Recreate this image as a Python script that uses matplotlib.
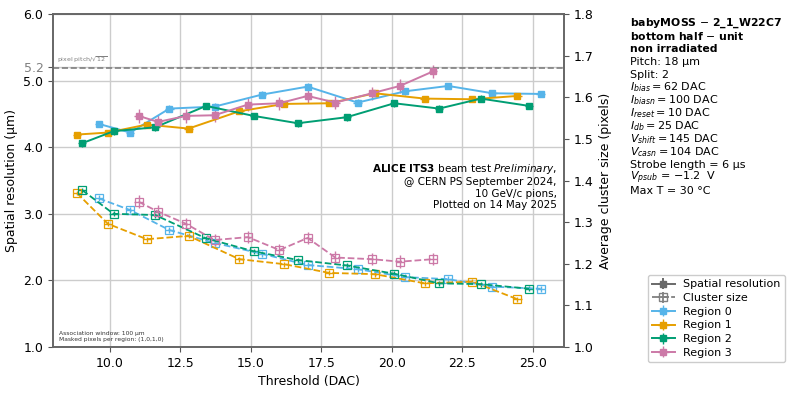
import numpy as np
from matplotlib import pyplot as plt

# threshold (DAC) per region
thr_r0 = [9.62, 10.73, 12.12, 13.72, 15.40, 17.02, 18.79, 20.48, 22.00, 23.57, 25.28]
thr_r1 = [8.84, 9.94, 11.32, 12.80, 14.60, 16.19, 17.79, 19.40, 21.17, 22.86, 24.45]
thr_r2 = [9.03, 10.14, 11.62, 13.42, 15.11, 16.67, 18.40, 20.09, 21.68, 23.16, 24.87]
thr_r3 = [11.03, 11.72, 12.71, 13.72, 14.90, 16.02, 17.02, 18.00, 19.30, 20.29, 21.47]

# spatial resolution (um)
res_r0 = [4.35, 4.22, 4.58, 4.61, 4.79, 4.91, 4.67, 4.84, 4.92, 4.81, 4.80]
res_r1 = [4.19, 4.22, 4.34, 4.28, 4.54, 4.65, 4.66, 4.81, 4.73, 4.72, 4.77]
res_r2 = [4.06, 4.24, 4.30, 4.62, 4.47, 4.36, 4.45, 4.66, 4.58, 4.73, 4.62]
res_r3 = [4.47, 4.38, 4.47, 4.48, 4.64, 4.66, 4.77, 4.67, 4.81, 4.92, 5.14]

# average cluster size (pixels)
cls_r0 = [1.357, 1.329, 1.281, 1.250, 1.224, 1.197, 1.187, 1.168, 1.163, 1.145, 1.140]
cls_r1 = [1.370, 1.296, 1.259, 1.267, 1.211, 1.199, 1.178, 1.175, 1.153, 1.157, 1.115]
cls_r2 = [1.377, 1.320, 1.317, 1.261, 1.230, 1.209, 1.196, 1.176, 1.153, 1.151, 1.140]
cls_r3 = [1.349, 1.325, 1.296, 1.257, 1.264, 1.233, 1.262, 1.215, 1.211, 1.205, 1.211]

# uncertainties
thr_err = 0.15
res_err = [0.05, 0.04, 0.05, 0.10]
cls_err = [0.007, 0.006, 0.006, 0.015]

regions = ["Region 0", "Region 1", "Region 2", "Region 3"]
colors = ["#56B4E9", "#E69F00", "#009E73", "#CC79A7"]
pixel_pitch = 18.0

thresholds = [thr_r0, thr_r1, thr_r2, thr_r3]
resolutions = [res_r0, res_r1, res_r2, res_r3]
cluster_sizes = [cls_r0, cls_r1, cls_r2, cls_r3]

plt.rcParams["font.family"] = "DejaVu Sans"
plt.rcParams["mathtext.fontset"] = "dejavusans"

fig = plt.figure(figsize=(7.93, 3.95), dpi=100)
ax = fig.add_axes([0.067, 0.1215, 0.644, 0.843])
ax2 = ax.twinx()

handles = []
for i in range(4):
    h = ax.errorbar(thresholds[i], resolutions[i], xerr=thr_err, yerr=res_err[i],
                    color=colors[i], marker="s", ms=5, lw=1.4, elinewidth=1.0,
                    label=regions[i])
    handles.append(h)
    ax2.errorbar(thresholds[i], cluster_sizes[i], xerr=thr_err, yerr=cls_err[i],
                 color=colors[i], marker="s", ms=6, mfc="none", mew=0.9,
                 ls="--", lw=1.3, elinewidth=1.0)

h_res = ax.errorbar([np.nan], [np.nan], xerr=[0.1], yerr=[0.1], color="dimgray",
                    marker="s", ms=5, lw=1.4, label="Spatial resolution")
h_cls = ax.errorbar([np.nan], [np.nan], xerr=[0.1], yerr=[0.1], color="gray",
                    marker="s", ms=6, mfc="none", ls="--", lw=1.3, label="Cluster size")

ref = pixel_pitch / np.sqrt(12)
ax.axhline(ref, color="gray", ls="--", lw=1.2)
ax.text(8.15, ref + 0.04, r"pixel pitch/$\sqrt{12}$", fontsize=4.5, color="gray",
        va="bottom")

ax.set_xlim(8.0, 26.1)
ax.set_ylim(1.0, 6.0)
ax.set_yticks([1.0, 2.0, 3.0, 4.0, 5.0, 5.2, 6.0])
ax.set_yticklabels(["1.0", "2.0", "3.0", "4.0", "5.0", "5.2", "6.0"])
ax.get_yticklabels()[5].set_color("gray")
ax.set_xticks([10.0, 12.5, 15.0, 17.5, 20.0, 22.5, 25.0])
ax.grid(True, color="#cccccc", lw=1.0)
ax.set_axisbelow(True)
ax.set_xlabel("Threshold (DAC)", fontsize=9)
ax.set_ylabel("Spatial resolution (µm)", fontsize=9)

ax2.set_ylim(1.0, 1.8)
ax2.set_yticks(np.arange(1.0, 1.81, 0.1))
ax2.set_yticklabels([f"{v:.1f}" for v in np.arange(1.0, 1.81, 0.1)])
ax2.set_ylabel("Average cluster size (pixels)", fontsize=9)

for a in (ax, ax2):
    a.tick_params(labelsize=9, color="#555555")
    for s in a.spines.values():
        s.set_color("#666666")
        s.set_linewidth(1.2)

ax.text(0.986, 0.555,
        r"$\bf{ALICE\ ITS3}$ beam test $\it{Preliminary}$," "\n"
        "@ CERN PS September 2024,\n10 GeV/c pions,\nPlotted on 14 May 2025",
        transform=ax.transAxes, ha="right", va="top", fontsize=7.5, linespacing=1.15)

ax.text(0.012, 0.015, "Association window: 100 µm\nMasked pixels per region: (1,0,1,0)",
        transform=ax.transAxes, ha="left", va="bottom", fontsize=4.3, color="#333333")

info = [
    (r"babyMOSS $-$ 2_1_W22C7", "bold"),
    (r"bottom half $-$ unit", "bold"),
    ("non irradiated", "bold"),
    ("Pitch: 18 µm", "normal"),
    ("Split: 2", "normal"),
    (r"$I_{bias}=62$ DAC", "normal"),
    (r"$I_{biasn}=100$ DAC", "normal"),
    (r"$I_{reset}=10$ DAC", "normal"),
    (r"$I_{db}=25$ DAC", "normal"),
    (r"$V_{shift}=145$ DAC", "normal"),
    (r"$V_{casn}=104$ DAC", "normal"),
    ("Strobe length = 6 µs", "normal"),
    (r"$V_{psub}$ = $-$1.2  V", "normal"),
    ("Max T = 30 °C", "normal"),
]
for k, (line, weight) in enumerate(info):
    fig.text(0.794, 0.942 - k * 0.0327, line, fontsize=8.0 if weight == "normal" else 7.8,
             fontweight=weight, va="center", ha="left")

fig.legend(handles=[h_res, h_cls] + handles,
           labels=["Spatial resolution", "Cluster size"] + regions,
           loc="upper left", bbox_to_anchor=(0.81, 0.318), fontsize=8,
           handlelength=2.0, borderpad=0.4, labelspacing=0.33, framealpha=1.0)

plt.savefig("out.png", dpi=100)
plt.close()
